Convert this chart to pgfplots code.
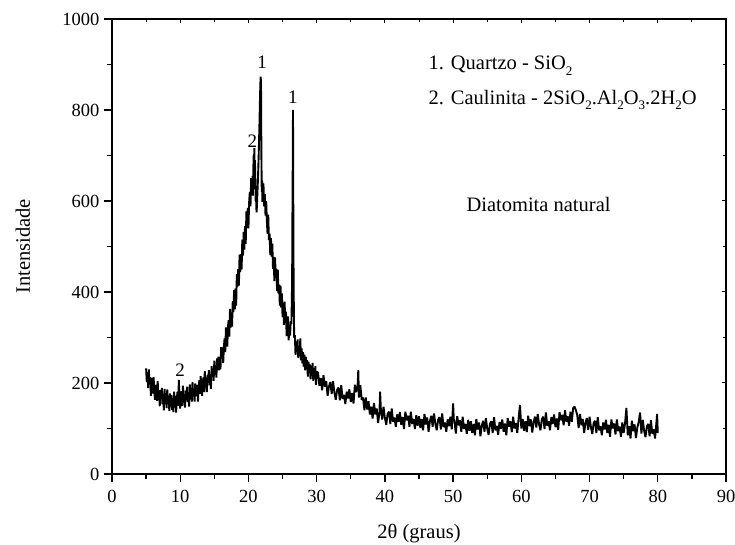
\documentclass[border=0pt]{standalone}
\usepackage{fontspec}
\setmainfont{Liberation Serif}
\usepackage{pgfplots}
\pgfplotsset{compat=1.18}
\newcommand{\sub}[1]{\raisebox{-0.55ex}{\fontsize{13}{14}\selectfont #1}}
\begin{document}
\begin{tikzpicture}
\begin{axis}[
  scale only axis, width=614pt, height=455pt,
  xmin=0, xmax=90, ymin=0, ymax=1000,
  xtick={0,10,...,90}, ytick={0,200,...,1000},
  minor x tick num=1, minor y tick num=1,
  tick align=outside, tick pos=left,
  major tick length=8pt, minor tick length=5pt,
  axis line style={line width=1.5pt},
  every tick/.style={line width=1.3pt, black},
  tick label style={font=\fontsize{18.5}{21}\selectfont},
  xticklabel style={yshift=-5pt},
  yticklabel style={xshift=-1pt},
  /pgf/number format/assume math mode=true,
  /pgf/number format/1000 sep={},
  xlabel={2θ (graus)}, ylabel={Intensidade},
  label style={font=\fontsize{20.5}{24}\selectfont},
  xlabel style={at={(axis description cs:0.5,0)}, anchor=base, yshift=-64pt},
  ylabel style={at={(axis description cs:-0.145,0.5)}, anchor=center},
]
\addplot[black, line width=1.9pt, line join=bevel] table {
x y
5.0 232
5.1 202
5.2 223
5.3 189
5.4 230
5.5 197
5.6 213
5.7 172
5.8 199
5.9 211
6.0 177
6.1 213
6.2 182
6.3 163
6.4 191
6.5 196
6.6 161
6.7 204
6.8 165
6.9 176
7.0 149
7.1 184
7.2 164
7.3 189
7.4 153
7.5 174
7.6 140
7.7 187
7.8 164
7.9 176
8.0 145
8.1 186
8.2 153
8.3 166
8.4 139
8.5 177
8.6 148
8.7 174
8.8 141
8.9 166
9.0 136
9.1 181
9.2 153
9.3 172
9.4 135
9.5 165
9.6 181
9.7 150
9.8 207
9.9 160
10.0 144
10.1 175
10.2 182
10.3 150
10.4 194
10.5 158
10.6 171
10.7 146
10.8 183
10.9 165
11.0 192
11.1 158
11.2 180
11.3 148
11.4 197
11.5 175
11.6 189
11.7 159
11.8 202
11.9 170
12.0 185
12.1 159
12.2 199
12.3 171
12.4 176
12.5 196
12.6 159
12.7 190
12.8 206
12.9 176
13.0 215
13.1 187
13.2 172
13.3 203
13.4 212
13.5 180
13.6 226
13.7 190
13.8 204
13.9 180
14.0 218
14.1 201
14.2 228
14.3 195
14.4 218
14.5 187
14.6 237
14.7 217
14.8 232
14.9 205
15.0 249
15.1 219
15.2 236
15.3 212
15.4 254
15.5 228
15.6 258
15.7 228
15.8 257
15.9 230
16.0 279
16.1 254
16.2 278
16.3 244
16.4 279
16.5 298
16.6 268
16.7 322
16.8 290
16.9 280
17.0 324
17.1 338
17.2 302
17.3 363
17.4 322
17.5 352
17.6 324
17.7 380
17.8 356
17.9 404
18.0 362
18.1 408
18.2 370
18.3 440
18.4 412
18.5 450
18.6 414
18.7 482
18.8 444
18.9 483
19.0 450
19.1 515
19.2 480
19.3 532
19.4 493
19.5 545
19.6 506
19.7 577
19.8 540
19.9 585
20.0 540
20.1 597
20.2 620
20.3 588
20.4 650
20.5 620
20.6 655
20.65 612
20.7 640
20.75 700
20.8 668
20.86 716
20.9 640
20.95 690
21.0 655
21.05 600
21.1 632
21.15 585
21.2 575
21.3 612
21.4 650
21.5 700
21.6 760
21.7 830
21.78 873
21.84 862
21.9 700
21.95 620
22.0 645
22.05 598
22.1 640
22.15 602
22.2 638
22.3 588
22.4 615
22.5 568
22.6 600
22.7 555
22.8 528
22.9 570
23.0 514
23.1 528
23.2 481
23.3 519
23.4 478
23.5 506
23.6 451
23.7 477
23.8 424
23.9 476
24.0 433
24.1 451
24.2 402
24.3 449
24.4 397
24.5 416
24.6 370
24.7 414
24.8 366
24.9 397
25.0 345
25.1 376
25.2 328
25.3 379
25.4 332
25.5 357
25.6 303
25.7 341
25.8 346
25.9 294
26.0 328
26.1 304
26.2 336
26.3 330
26.4 420
26.45 575
26.5 700
26.53 800
26.57 610
26.62 420
26.7 300
26.8 305
26.9 262
27.0 290
27.1 268
27.2 296
27.3 255
27.4 282
27.5 260
27.6 298
27.7 250
27.8 276
27.9 243
28.0 268
28.1 236
28.2 262
28.3 228
28.4 258
28.5 230
28.6 250
28.7 214
28.8 247
28.9 222
29.0 241
29.1 208
29.2 238
29.3 215
29.4 244
29.5 205
29.6 232
29.7 210
29.8 237
29.9 196
30.0 225
30.2 223
30.4 194
30.6 211
30.8 184
31.0 217
31.2 192
31.4 204
31.6 172
31.8 192
32.0 202
32.2 176
32.4 204
32.6 179
32.8 163
33.0 185
33.2 190
33.4 162
33.6 195
33.8 165
34.0 174
34.2 154
34.4 181
34.6 166
34.8 186
35.0 158
35.2 178
35.4 155
35.6 196
35.8 180
36.0 194
36.1 228
36.2 168
36.4 195
36.6 163
36.8 168
37.0 140
37.2 168
37.4 142
37.6 160
37.8 131
38.0 148
38.2 122
38.4 156
38.6 131
38.8 144
39.0 112
39.2 134
39.3 181
39.4 145
39.6 120
39.8 148
40.0 123
40.2 108
40.4 132
40.6 137
40.8 110
41.0 144
41.2 115
41.4 124
41.6 104
41.8 131
42.0 115
42.2 136
42.4 108
42.6 125
42.8 99
43.0 137
43.2 118
43.4 128
43.6 104
43.8 137
44.0 110
44.2 121
44.4 99
44.6 129
44.8 106
45.0 127
45.2 101
45.4 121
45.6 96
45.8 132
46.0 109
46.2 124
46.4 93
46.6 116
46.8 128
47.0 104
47.2 133
47.4 110
47.6 96
47.8 119
48.0 125
48.2 98
48.4 133
48.6 103
48.8 113
49.0 93
49.2 120
49.4 105
49.6 126
49.8 98
50.0 155
50.1 120
50.2 116
50.4 89
50.6 127
50.8 107
51.0 118
51.2 93
51.4 126
51.6 99
51.8 110
52.0 88
52.2 119
52.4 95
52.6 116
52.8 90
53.0 110
53.2 85
53.4 121
53.6 98
53.8 113
54.0 83
54.2 106
54.4 117
54.6 93
54.8 123
55.0 100
55.2 86
55.4 110
55.6 116
55.8 90
56.0 125
56.2 96
56.4 106
56.6 86
56.8 114
57.0 99
57.2 120
57.4 93
57.6 111
57.8 85
58.0 123
58.2 104
58.4 116
58.6 92
58.8 126
59.0 100
59.2 112
59.4 90
59.6 122
59.8 152
60.0 100
60.2 121
60.4 95
60.6 116
60.8 92
61.0 128
61.2 105
61.4 120
61.6 91
61.8 114
62.0 126
62.2 102
62.4 132
62.6 109
62.8 96
63.0 120
63.2 126
63.4 99
63.6 135
63.8 106
64.0 116
64.2 96
64.4 125
64.6 110
64.8 131
65.0 103
65.2 122
65.4 97
65.6 136
65.8 118
66.0 130
66.2 107
66.4 140
66.6 115
66.8 127
67.0 106
67.2 137
67.4 115
67.6 145
67.8 148
68.0 140
68.2 129
68.4 101
68.6 132
68.8 107
69.0 121
69.2 90
69.4 112
69.6 123
69.8 97
70.0 126
70.2 103
70.4 88
70.6 112
70.8 117
71.0 90
71.2 125
71.4 96
71.6 105
71.8 85
72.0 113
72.2 98
72.4 119
72.6 90
72.8 108
73.0 82
73.2 120
73.4 100
73.6 111
73.8 87
74.0 120
74.2 94
74.4 104
74.6 82
74.8 113
75.0 90
75.2 111
75.4 145
75.6 85
75.8 105
76.0 78
76.2 117
76.4 94
76.6 109
76.8 79
77.0 102
77.2 114
77.4 135
77.6 89
77.8 119
78.0 95
78.2 81
78.4 105
78.6 110
78.8 83
79.0 118
79.2 88
79.4 98
79.6 78
79.8 113
79.9 132
80.0 90
};
\node[anchor=base west, font=\fontsize{20.5}{24}\selectfont] at (axis cs:45.9,888) {1. Quartzo - SiO\sub{2}};
\node[anchor=base west, font=\fontsize{20.5}{24}\selectfont] at (axis cs:45.9,813) {2. Caulinita - 2SiO\sub{2}.Al\sub{2}O\sub{3}.2H\sub{2}O};
\node[anchor=base west, font=\fontsize{20.5}{24}\selectfont] at (axis cs:51.45,578) {Diatomita natural};
\node[font=\fontsize{19}{22}\selectfont] at (axis cs:22.0,905) {1};
\node[font=\fontsize{19}{22}\selectfont] at (axis cs:26.5,828) {1};
\node[font=\fontsize{19}{22}\selectfont] at (axis cs:20.57,732) {2};
\node[font=\fontsize{19}{22}\selectfont] at (axis cs:9.97,229) {2};
\end{axis}
\begin{axis}[
  scale only axis, width=614pt, height=455pt,
  xmin=0, xmax=90, ymin=0, ymax=1000,
  xtick={0,10,...,90}, ytick={0,200,...,1000},
  minor x tick num=1, minor y tick num=1,
  tick align=inside, tick pos=right,
  major tick length=4pt, minor tick length=3pt,
  axis line style={line width=1.5pt},
  every tick/.style={line width=1.0pt, black},
  xticklabels={}, yticklabels={},
]
\end{axis}
\pgfresetboundingbox
\path ([shift={(-112pt,-71pt)}]current axis.south west) rectangle ([shift={(9pt,19pt)}]current axis.north east);
\end{tikzpicture}
\end{document}
